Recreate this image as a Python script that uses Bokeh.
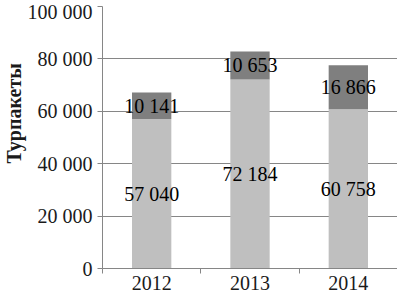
from bokeh.plotting import figure
from bokeh.models import ColumnDataSource, FixedTicker, Range1d, Title
from bokeh.core.properties import value
from bokeh.embed import file_html
from bokeh.resources import INLINE

years = ["2012", "2013", "2014"]
base_values = [57040, 72184, 60758]
top_values = [10141, 10653, 16866]
y_ticks = [0, 20000, 40000, 60000, 80000, 100000]
y_axis_title = "Турпакеты"

FONT = "'Liberation Serif'"


def fmt(v):
    return f"{v:,}".replace(",", " ")


xs = list(range(len(years)))
totals = [b + t for b, t in zip(base_values, top_values)]
src = ColumnDataSource(dict(
    x=xs,
    base=base_values,
    total=totals,
    mid_base=[b / 2 for b in base_values],
    mid_top=[b + t / 2 for b, t in zip(base_values, top_values)],
    lab_base=[fmt(v) for v in base_values],
    lab_top=[fmt(v) for v in top_values],
))

p = figure(width=397, height=293,
           x_range=Range1d(-0.5, len(years) - 0.5),
           y_range=Range1d(0, y_ticks[-1]),
           output_backend="svg", toolbar_location=None,
           min_border_left=100, min_border_right=0,
           min_border_top=6, min_border_bottom=25)
p.outline_line_color = None
p.background_fill_color = "white"
p.border_fill_color = "white"

p.vbar(x="x", bottom=0, top="base", width=0.4, fill_color="#bfbfbf",
       line_color=None, source=src)
p.vbar(x="x", bottom="base", top="total", width=0.4, fill_color="#7f7f7f",
       line_color=None, source=src)

p.text(x="x", y="mid_base", text="lab_base", source=src, text_align="center",
       text_baseline="middle", text_font=value(FONT), text_font_size="20px",
       text_color="black")
p.text(x="x", y="mid_top", text="lab_top", source=src, text_align="center",
       text_baseline="middle", text_font=value(FONT), text_font_size="20px",
       text_color="black")

# y axis
p.yaxis.ticker = FixedTicker(ticks=y_ticks)
p.yaxis.major_label_overrides = {t: fmt(t) for t in y_ticks}
p.yaxis.major_label_text_font = FONT
p.yaxis.major_label_text_font_size = "20px"
p.yaxis.major_label_text_color = "#1a1a1a"
p.yaxis.major_label_standoff = 5
p.yaxis.major_tick_out = 5
p.yaxis.major_tick_in = 0
p.yaxis.minor_tick_line_color = None
p.yaxis.axis_line_color = "#868686"
p.yaxis.major_tick_line_color = "#868686"

# x axis
p.xaxis.ticker = FixedTicker(ticks=xs,
                             minor_ticks=[i - 0.5 for i in range(len(years) + 1)])
p.xaxis.major_label_overrides = {i: y for i, y in enumerate(years)}
p.xaxis.major_label_text_font = FONT
p.xaxis.major_label_text_font_size = "20px"
p.xaxis.major_label_text_color = "#1a1a1a"
p.xaxis.major_label_standoff = 2
p.xaxis.major_tick_line_color = None
p.xaxis.major_tick_out = 0
p.xaxis.major_tick_in = 0
p.xaxis.minor_tick_out = 5
p.xaxis.minor_tick_in = 0
p.xaxis.minor_tick_line_color = "#868686"
p.xaxis.axis_line_color = "#868686"

p.xgrid.visible = False
p.ygrid.ticker = FixedTicker(ticks=y_ticks)
p.ygrid.grid_line_color = "#868686"
p.ygrid.grid_line_width = 1

p.add_layout(Title(text=y_axis_title, align="left", offset=105, standoff=0,
                   text_font=FONT, text_font_size="20px",
                   text_font_style="bold", text_color="#1a1a1a"), "left")

open("out.html", "w").write(file_html(p, INLINE))
